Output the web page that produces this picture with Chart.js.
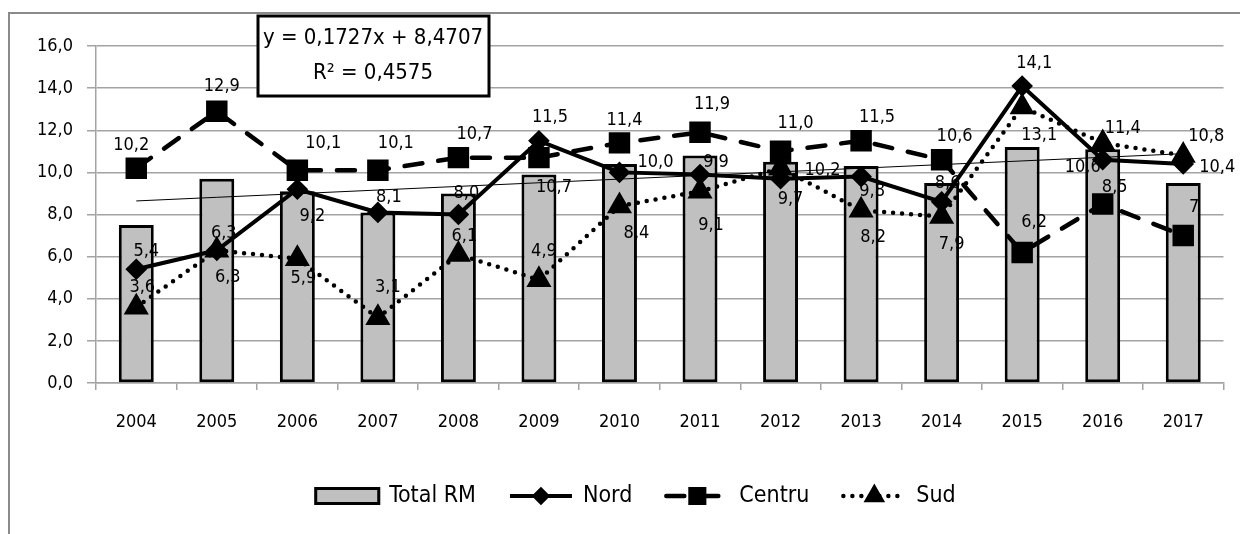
<!DOCTYPE html>
<html>
<head>
<meta charset="utf-8">
<title>Total RM, Nord, Centru, Sud 2004-2017</title>
<script src="https://cdn.jsdelivr.net/npm/chart.js@4.4.1/dist/chart.umd.min.js"></script>
<style>
  body { margin: 0; background: #fff; }
  canvas { display: block; }
</style>
</head>
<body>
<canvas id="chart" width="1240" height="534"></canvas>
<script>
const years = ['2004', '2005', '2006', '2007', '2008', '2009', '2010', '2011', '2012', '2013', '2014', '2015', '2016', '2017'];
const totalRM = [7.5, 9.7, 9.1, 8.1, 9.0, 9.9, 10.4, 10.8, 10.5, 10.3, 9.5, 11.2, 11.1, 9.5];
const nord = [5.4, 6.3, 9.2, 8.1, 8.0, 11.5, 10.0, 9.9, 9.7, 9.8, 8.6, 14.1, 10.6, 10.4];
const centru = [10.2, 12.9, 10.1, 10.1, 10.7, 10.7, 11.4, 11.9, 11.0, 11.5, 10.6, 6.2, 8.5, 7];
const sud = [3.6, 6.3, 5.9, 3.1, 6.1, 4.9, 8.4, 9.1, 10.2, 8.2, 7.9, 13.1, 11.4, 10.8];

// linear trend of Total RM: slope, intercept, R2
const trendCoef = [0.1727, 8.4707];
const trendR2 = 0.4575;

// where each value label sits relative to its point (px)
const nordLabelPos = [[10,-18],[7,-17],[15,27],[11,-15],[8,-21],[11,-23],[36,-10],[16,-12],[10,21],[11,15],[6,-19],[12,-23],[-20,8],[34,3]];
const centruLabelPos = [[-5,-23],[5,-25],[26,-27],[18,-27],[16,-23],[15,30],[5,-23],[12,-28],[15,-28],[16,-23],[13,-23],[12,-30],[12,-17],[11,-28]];
const sudLabelPos = [[6,-20],[11,27],[6,20],[10,-30],[6,-18],[5,-28],[17,27],[11,34],[42,2],[12,27],[10,28],[17,28],[20,-15],[23,-19]];

const FONT = '"DejaVu Sans Condensed", "DejaVu Sans", sans-serif';
const GRID = '#a3a3a3';

const comma = (v, d) => v.toFixed(d).replace('.', ',');
const labelText = (ds, j) => (ds.plainAt && ds.plainAt.includes(j)) ? String(ds.data[j]) : comma(ds.data[j], 1);

// white page plus the grey frame edge at top and left
const frame = {
  id: 'frame',
  beforeDraw(chart) {
    const ctx = chart.ctx;
    ctx.save();
    ctx.fillStyle = '#fff';
    ctx.fillRect(0, 0, chart.width, chart.height);
    ctx.strokeStyle = '#8a8a8a';
    ctx.lineWidth = 2;
    ctx.beginPath();
    ctx.moveTo(9, chart.height);
    ctx.lineTo(9, 13);
    ctx.lineTo(chart.width, 13);
    ctx.stroke();
    ctx.restore();
  }
};

const valueLabels = {
  id: 'valueLabels',
  afterDatasetsDraw(chart) {
    const ctx = chart.ctx;
    ctx.save();
    ctx.font = '18px ' + FONT;
    ctx.fillStyle = '#000';
    ctx.textAlign = 'center';
    ctx.textBaseline = 'middle';
    chart.data.datasets.forEach((ds, i) => {
      if (!ds.labelPos) return;
      chart.getDatasetMeta(i).data.forEach((pt, j) => {
        const [dx, dy] = ds.labelPos[j];
        ctx.fillText(labelText(ds, j), pt.x + dx, pt.y + dy);
      });
    });
    ctx.restore();
  }
};

// trendline equation box
const equationBox = {
  id: 'equationBox',
  afterDraw(chart) {
    const ctx = chart.ctx;
    ctx.save();
    ctx.fillStyle = '#fff';
    ctx.fillRect(258, 16, 231, 80);
    ctx.strokeStyle = '#000';
    ctx.lineWidth = 3;
    ctx.strokeRect(258, 16, 231, 80);
    ctx.fillStyle = '#000';
    ctx.font = '22px ' + FONT;
    ctx.textAlign = 'center';
    ctx.textBaseline = 'middle';
    ctx.fillText('y = ' + comma(trendCoef[0], 4) + 'x + ' + comma(trendCoef[1], 4), 373, 38);
    ctx.fillText('R\u00b2 = ' + comma(trendR2, 4), 373, 73);
    ctx.restore();
  }
};

// legend with line + marker swatches
const legendRow = {
  id: 'legendRow',
  afterDraw(chart) {
    const ctx = chart.ctx;
    const sets = chart.data.datasets.filter(ds => ds.legendAt !== undefined)
      .sort((a, b) => a.legendAt - b.legendAt);
    const sw = 66, gapText = 9, gapItem = 32, cy = 496;
    ctx.save();
    ctx.font = '23px ' + FONT;
    ctx.textBaseline = 'middle';
    const widths = sets.map(ds => sw + gapText + ctx.measureText(ds.label).width);
    const total = widths.reduce((a, b) => a + b, 0) + gapItem * (sets.length - 1);
    let x = 635 - total / 2;
    sets.forEach((ds, k) => {
      const cx = x + sw / 2;
      if (ds.type === 'line') {
        ctx.strokeStyle = '#000';
        ctx.lineWidth = ds.borderWidth;
        ctx.lineCap = ds.borderCapStyle || 'butt';
        ctx.setLineDash(ds.borderDash || []);
        ctx.beginPath();
        ctx.moveTo(x + 2, cy);
        ctx.lineTo(x + sw - 2, cy);
        ctx.stroke();
        ctx.setLineDash([]);
        ctx.fillStyle = '#000';
        Chart.helpers.drawPoint(ctx, {
          pointStyle: ds.pointStyle,
          radius: ds.pointRadius * 0.8,
          borderWidth: 1,
          rotation: 0
        }, cx, cy);
        ctx.fill();
      } else {
        ctx.fillStyle = ds.backgroundColor;
        ctx.fillRect(x, cy - 9, sw, 18);
        ctx.strokeStyle = '#000';
        ctx.lineWidth = 3;
        ctx.strokeRect(x + 1.5, cy - 7.5, sw - 3, 15);
      }
      ctx.fillStyle = '#000';
      ctx.textAlign = 'left';
      ctx.fillText(ds.label, x + sw + gapText, cy);
      x += widths[k] + gapItem;
    });
    ctx.restore();
  }
};

new Chart(document.getElementById('chart'), {
  type: 'bar',
  data: {
    labels: years,
    datasets: [
      {
        type: 'line',
        label: 'Sud',
        data: sud,
        labelPos: sudLabelPos,
        legendAt: 3,
        order: 1,
        borderColor: '#000',
        borderWidth: 4.5,
        borderDash: [0, 9],
        borderCapStyle: 'round',
        tension: 0,
        pointStyle: 'triangle',
        pointRadius: 10,
        pointBackgroundColor: '#000',
        pointBorderColor: '#000'
      },
      {
        type: 'line',
        label: 'Nord',
        data: nord,
        labelPos: nordLabelPos,
        legendAt: 1,
        order: 2,
        borderColor: '#000',
        borderWidth: 4,
        tension: 0,
        pointStyle: 'rectRot',
        pointRadius: 8,
        pointBackgroundColor: '#000',
        pointBorderColor: '#000'
      },
      {
        type: 'line',
        label: 'Centru',
        data: centru,
        labelPos: centruLabelPos,
        plainAt: [13],
        legendAt: 2,
        order: 3,
        borderColor: '#000',
        borderWidth: 4.5,
        borderDash: [18, 16],
        borderCapStyle: 'round',
        tension: 0,
        pointStyle: 'rect',
        pointRadius: 12,
        pointBackgroundColor: '#000',
        pointBorderColor: '#000'
      },
      {
        type: 'line',
        label: 'Trend',
        data: years.map((y, i) => trendCoef[0] * (i + 1) + trendCoef[1]),
        order: 4,
        borderColor: '#000',
        borderWidth: 1,
        pointRadius: 0,
        tension: 0
      },
      {
        type: 'bar',
        label: 'Total RM',
        data: totalRM,
        legendAt: 0,
        order: 5,
        backgroundColor: '#c0c0c0',
        borderColor: '#000',
        borderWidth: 3,
        borderSkipped: false,
        barPercentage: 0.434,
        categoryPercentage: 1
      }
    ]
  },
  options: {
    responsive: false,
    animation: false,
    devicePixelRatio: 1,
    layout: { padding: { top: 46, right: 15, left: 0, bottom: 96 } },
    plugins: {
      legend: { display: false },
      tooltip: { enabled: false }
    },
    scales: {
      x: {
        afterFit(scale) { scale.height = 55; },
        grid: { display: true, drawOnChartArea: false, drawTicks: true, tickLength: 7, color: GRID, lineWidth: 1.5, offset: true },
        border: { display: true, color: GRID, width: 1.5 },
        ticks: { color: '#000', padding: 22, font: { family: FONT, size: 18 } }
      },
      y: {
        min: 0,
        max: 16,
        afterFit(scale) { scale.width = 96; },
        grid: { color: GRID, lineWidth: 1.5, tickLength: 9 },
        border: { display: true, color: GRID, width: 1.5 },
        ticks: {
          stepSize: 2,
          color: '#000',
          padding: 14,
          font: { family: FONT, size: 18 },
          callback: v => comma(v, 1)
        }
      }
    }
  },
  plugins: [frame, valueLabels, equationBox, legendRow]
});
</script>
</body>
</html>
